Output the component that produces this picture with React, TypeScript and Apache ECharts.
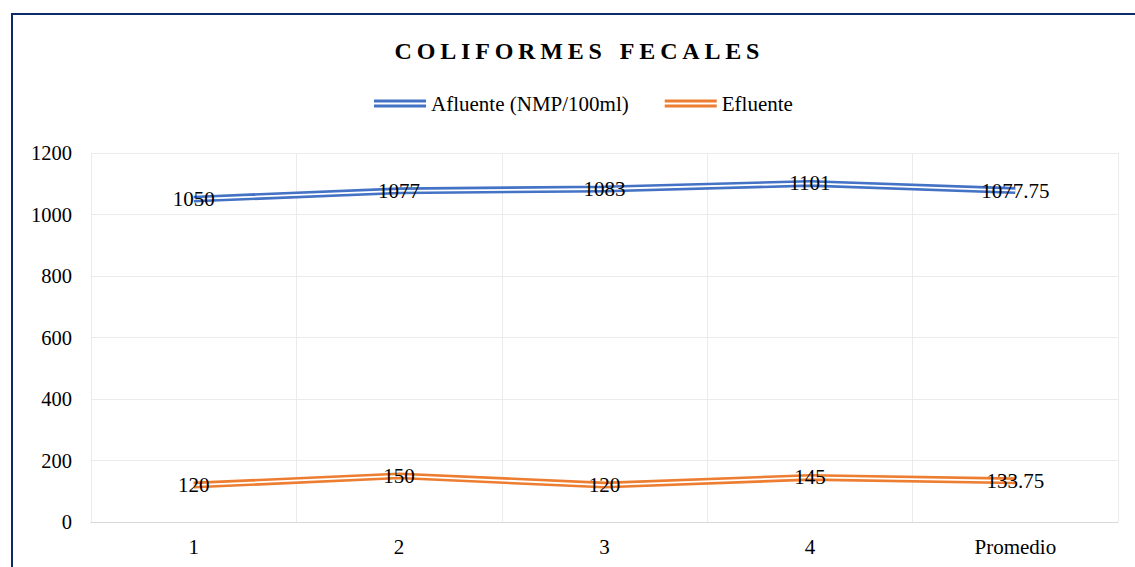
import React, { useEffect, useRef } from "react";
import * as echarts from "echarts";

const categories = ["1", "2", "3", "4", "Promedio"];
const afluente = [1050, 1077, 1083, 1101, 1077.75];
const efluente = [120, 150, 120, 145, 133.75];
const yMin = 0;
const yMax = 1200;
const yInterval = 200;
const nameA = "Afluente (NMP/100ml)";
const nameE = "Efluente";
const titleText = "C\u2009O\u2009L\u2009I\u2009F\u2009O\u2009R\u2009M\u2009E\u2009S\u00A0\u00A0\u00A0F\u2009E\u2009C\u2009A\u2009L\u2009E\u2009S";

const FONT = "'Liberation Serif', 'Times New Roman', serif";
const BLUE = "#4472C4";
const ORANGE = "#ED7D31";
const ICON = "path://M0,0H52V3H0Z M0,5H52V8H0Z";

function pair(name: string, data: number[], color: string) {
  return [
    {
      name,
      type: "line",
      data,
      symbol: "none",
      z: 2,
      silent: true,
      lineStyle: { color, width: 7 },
      itemStyle: { color },
    },
    {
      name,
      type: "line",
      data,
      symbol: "circle",
      symbolSize: 0,
      z: 3,
      silent: true,
      lineStyle: { color: "#ffffff", width: 1.8 },
      itemStyle: { color },
      label: {
        show: true,
        position: "inside",
        color: "#000",
        fontSize: 21,
        fontFamily: FONT,
      },
    },
  ];
}

export default function App() {
  const ref = useRef<HTMLDivElement>(null);
  useEffect(() => {
    if (!ref.current) return;
    const chart = echarts.init(ref.current, undefined, { renderer: "svg" });
    chart.setOption({
      animation: false,
      backgroundColor: "#fff",
      title: {
        text: titleText,
        left: 572,
        textAlign: "center",
        top: 34,
        textStyle: { fontFamily: FONT, fontSize: 24, fontWeight: "bold", color: "#000" },
      },
      legend: {
        top: 88,
        left: 369,
        itemWidth: 52,
        itemHeight: 8,
        itemGap: 36,
        textStyle: { fontFamily: FONT, fontSize: 21, color: "#000" },
        data: [
          { name: nameA, icon: ICON, itemStyle: { color: BLUE, borderWidth: 0 } },
          { name: nameE, icon: ICON, itemStyle: { color: ORANGE, borderWidth: 0 } },
        ],
      },
      grid: { left: 91, right: 17, top: 153, bottom: 45, containLabel: false },
      xAxis: {
        type: "category",
        data: categories,
        boundaryGap: true,
        axisLine: { show: true, lineStyle: { color: "#d9d9d9", width: 1 } },
        axisTick: { show: false },
        splitLine: { show: true, lineStyle: { color: "#ebebeb", width: 1 } },
        axisLabel: { fontFamily: FONT, fontSize: 21, color: "#000", margin: 14 },
      },
      yAxis: {
        type: "value",
        min: yMin,
        max: yMax,
        interval: yInterval,
        axisLine: { show: false },
        axisTick: { show: false },
        splitLine: { show: true, lineStyle: { color: "#ebebeb", width: 1 } },
        axisLabel: {
          fontFamily: FONT,
          fontSize: 20.5,
          color: "#000",
          margin: 19,
          formatter: (v: number) => String(v),
        },
      },
      graphic: [
        {
          type: "rect",
          silent: true,
          z: 100,
          shape: { x: 12, y: 14, width: 1200, height: 600 },
          style: { fill: "none", stroke: "#0D2B6B", lineWidth: 2 },
        },
      ],
      series: [...pair(nameA, afluente, BLUE), ...pair(nameE, efluente, ORANGE)],
    });
    return () => chart.dispose();
  }, []);
  return (
    <div
      ref={ref}
      style={{ position: "absolute", left: 0, top: 0, width: 1135, height: 567 }}
    />
  );
}
